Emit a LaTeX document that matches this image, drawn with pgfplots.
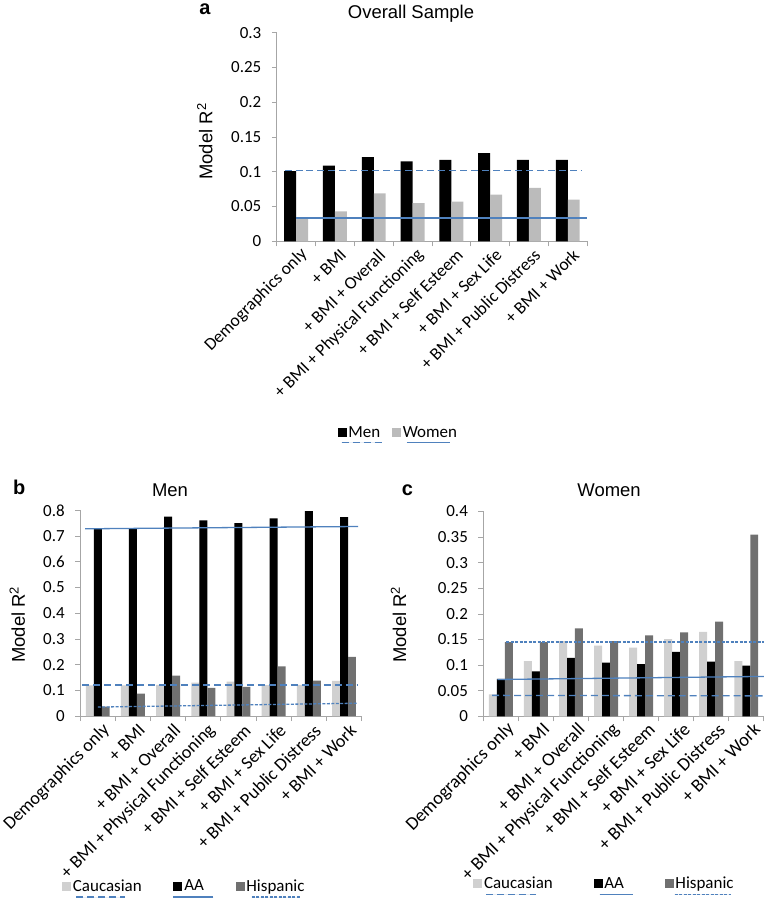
\documentclass[border=0pt]{standalone}
\usepackage{fontspec}
\setmainfont{Liberation Sans}
\newfontfamily\carlito{Carlito}
\usepackage{pgfplots}
\pgfplotsset{compat=1.18}
\definecolor{tb}{HTML}{4F81BD}
\definecolor{cau}{HTML}{D0D0D0}
\definecolor{his}{HTML}{707070}
\definecolor{wom}{HTML}{BBBBBB}
\definecolor{axgray}{HTML}{A6A6A6}
\pgfplotsset{
  exstyle/.style={
    scale only axis,
    xmin=-0.5, xmax=7.5, ymin=0,
    axis x line*=bottom, axis y line*=left,
    axis line style={axgray, line width=0.8bp, -},
    tick align=outside,
    xtick={0,...,7},
    xticklabels={Demographics only, + BMI, + BMI + Overall, + BMI + Physical Functioning, + BMI + Self Esteem, + BMI + Sex Life, + BMI + Public Distress, + BMI + Work},
    major x tick style={draw=none},
    minor xtick={-0.5,0.5,1.5,2.5,3.5,4.5,5.5,6.5,7.5},
    minor x tick style={axgray, line width=0.8bp},
    minor tick length=5bp,
    major tick length=5bp,
    ytick style={axgray, line width=0.8bp},
    scaled y ticks=false,
    /pgf/number format/assume math mode=true,
    /pgf/number format/fixed,
    tick label style={font=\carlito\fontsize{17bp}{19bp}\selectfont, black},
    y tick label style={xshift=-7bp},
    x tick label style={rotate=45, anchor=east, xshift=3bp, yshift=-10bp, inner sep=1bp},
    legend style={draw=none, fill=none, inner sep=0pt, outer sep=0pt,
      font=\carlito\fontsize{17bp}{19bp}\selectfont, legend columns=-1,
      nodes={inner xsep=1.8bp, inner ysep=0bp}},
    clip=false,
  },
  trendsolid/.style={draw=tb, color=tb, line width=1.3bp, forget plot, sharp plot, no marks, solid},
  trenddash/.style={trendsolid, dash pattern=on 7bp off 4bp},
  trenddot/.style={trendsolid, dash pattern=on 3bp off 1.5bp},
}
\begin{document}
\begin{tikzpicture}
\path (0,0) rectangle (767bp,-898bp);
% ---------- panel a ----------
\node[font=\bfseries\fontsize{20bp}{22bp}\selectfont] at (205bp,-7bp) {a};
\node[font=\fontsize{18.5bp}{20bp}\selectfont] at (411.5bp,-12bp) {Overall Sample};
\node[rotate=90, font=\fontsize{18.5bp}{20bp}\selectfont] at (205bp,-140bp) {Model R\textsuperscript{2}};
\begin{axis}[exstyle, at={(277bp,-240bp)}, anchor=south west, width=311bp, height=209bp,
  ymax=0.3, ytick={0,0.05,0.1,0.15,0.2,0.25,0.3},
  x tick label style={font=\carlito\fontsize{17.6bp}{19bp}\selectfont},
  legend style={at={(0.196,-0.917)}, anchor=west, /tikz/every even column/.append style={column sep=10bp}}]
\addplot[ybar, bar width=12bp, bar shift=-6bp, fill=black, draw=none,
  legend image code/.code={\fill[black] (0bp,-4.5bp) rectangle (9bp,4.5bp);
    \draw[overlay, tb, line width=1.2bp, dash pattern=on 7bp off 4bp] (4bp,-10bp) -- (44bp,-10bp);}]
  coordinates {(0,0.101) (1,0.109) (2,0.121) (3,0.115) (4,0.117) (5,0.127) (6,0.117) (7,0.117)};
\addlegendentry{Men}
\addplot[ybar, bar width=12bp, bar shift=6bp, fill=wom, draw=none,
  legend image code/.code={\fill[wom] (0bp,-4.5bp) rectangle (9bp,4.5bp);
    \draw[overlay, tb, line width=1.2bp] (15bp,-10bp) -- (58bp,-10bp);}]
  coordinates {(0,0.034) (1,0.043) (2,0.069) (3,0.055) (4,0.057) (5,0.067) (6,0.077) (7,0.060)};
\addlegendentry{Women}
\addplot[trenddash] coordinates {(-0.3,0.102) (7.35,0.102)};
\addplot[trendsolid, tb] coordinates {(0,0.0335) (7.5,0.0335)};
\end{axis}
% ---------- panel b ----------
\node[font=\bfseries\fontsize{20bp}{22bp}\selectfont] at (19bp,-487bp) {b};
\node[font=\fontsize{18.5bp}{20bp}\selectfont] at (170bp,-489bp) {Men};
\node[rotate=90, font=\fontsize{18.5bp}{20bp}\selectfont] at (17bp,-624bp) {Model R\textsuperscript{2}};
\begin{axis}[exstyle, at={(80bp,-715.7bp)}, anchor=south west, width=282bp, height=206.2bp,
  ymax=0.8, ytick={0,0.1,0.2,0.3,0.4,0.5,0.6,0.7,0.8},
  x tick label style={font=\carlito\fontsize{18.2bp}{19bp}\selectfont, yshift=-1bp},
  legend style={at={(-0.064,-0.826)}, anchor=west, /tikz/every even column/.append style={column sep=30bp}}]
\addplot[ybar, bar width=8bp, bar shift=-8bp, fill=cau, draw=none,
  legend image code/.code={\fill[cau] (0bp,-4.5bp) rectangle (9bp,4.5bp);
    \draw[overlay, tb, line width=1.2bp, dash pattern=on 7bp off 4bp] (14bp,-11bp) -- (63bp,-11bp);}]
  coordinates {(0,0.119) (1,0.119) (2,0.121) (3,0.130) (4,0.134) (5,0.120) (6,0.121) (7,0.137)};
\addlegendentry{Caucasian}
\addplot[ybar, bar width=8bp, bar shift=0bp, fill=black, draw=none,
  legend image code/.code={\fill[black] (0bp,-4.5bp) rectangle (9bp,4.5bp);
    \draw[overlay, tb, line width=1.2bp] (0bp,-11bp) -- (40bp,-11bp);}]
  coordinates {(0,0.729) (1,0.730) (2,0.775) (3,0.761) (4,0.750) (5,0.769) (6,0.797) (7,0.773)};
\addlegendentry{AA}
\addplot[ybar, bar width=8bp, bar shift=8bp, fill=his, draw=none,
  legend image code/.code={\fill[his] (0bp,-4.5bp) rectangle (9bp,4.5bp);
    \draw[overlay, tb, line width=1.2bp, dash pattern=on 3bp off 1.5bp] (16bp,-11bp) -- (64bp,-11bp);}]
  coordinates {(0,0.037) (1,0.087) (2,0.157) (3,0.110) (4,0.114) (5,0.193) (6,0.138) (7,0.230)};
\addlegendentry{Hispanic}
\addplot[trenddash] coordinates {(-0.44,0.121) (7.37,0.121)};
\addplot[trendsolid] coordinates {(-0.36,0.728) (7.4,0.737)};
\addplot[trenddot] coordinates {(0,0.035) (7.4,0.050)};
\end{axis}
% ---------- panel c ----------
\node[font=\bfseries\fontsize{20bp}{22bp}\selectfont] at (408bp,-489bp) {c};
\node[font=\fontsize{18.5bp}{20bp}\selectfont] at (610bp,-489bp) {Women};
\node[rotate=90, font=\fontsize{18.5bp}{20bp}\selectfont] at (399bp,-624bp) {Model R\textsuperscript{2}};
\begin{axis}[exstyle, at={(484bp,-716bp)}, anchor=south west, width=281bp, height=205.3bp,
  ymax=0.4, ytick={0,0.05,0.1,0.15,0.2,0.25,0.3,0.35,0.4},
  x tick label style={font=\carlito\fontsize{18.6bp}{19bp}\selectfont, xshift=2bp, yshift=-1bp},
  legend style={at={(-0.036,-0.816)}, anchor=west, /tikz/every even column/.append style={column sep=39bp}}]
\addplot[ybar, bar width=8bp, bar shift=-8bp, fill=cau, draw=none,
  legend image code/.code={\fill[cau] (0bp,-4.5bp) rectangle (9bp,4.5bp);
    \draw[overlay, tb, line width=1.2bp, dash pattern=on 7bp off 4bp] (13bp,-11bp) -- (63bp,-11bp);}]
  coordinates {(0,0.043) (1,0.108) (2,0.147) (3,0.138) (4,0.134) (5,0.151) (6,0.165) (7,0.108)};
\addlegendentry{Caucasian}
\addplot[ybar, bar width=8bp, bar shift=0bp, fill=black, draw=none,
  legend image code/.code={\fill[black] (0bp,-4.5bp) rectangle (9bp,4.5bp);
    \draw[overlay, tb, line width=1.2bp] (6bp,-11bp) -- (39bp,-11bp);}]
  coordinates {(0,0.073) (1,0.088) (2,0.114) (3,0.105) (4,0.102) (5,0.126) (6,0.107) (7,0.099)};
\addlegendentry{AA}
\addplot[ybar, bar width=8bp, bar shift=8bp, fill=his, draw=none,
  legend image code/.code={\fill[his] (0bp,-4.5bp) rectangle (9bp,4.5bp);
    \draw[overlay, tb, line width=1.2bp, dash pattern=on 3bp off 1.5bp] (10bp,-11bp) -- (66bp,-11bp);}]
  coordinates {(0,0.145) (1,0.145) (2,0.172) (3,0.147) (4,0.158) (5,0.164) (6,0.185) (7,0.355)};
\addlegendentry{Hispanic}
\addplot[trenddash] coordinates {(-0.25,0.041) (7.5,0.040)};
\addplot[trendsolid] coordinates {(-0.1,0.072) (7.5,0.078)};
\addplot[trenddot] coordinates {(0.15,0.145) (7.5,0.145)};
\end{axis}
\end{tikzpicture}
\end{document}
